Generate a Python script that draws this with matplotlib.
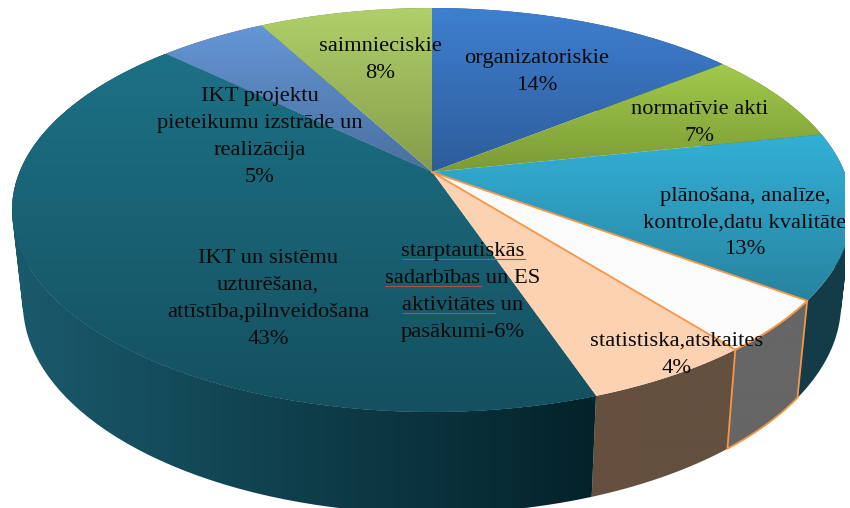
import numpy as np
import matplotlib
matplotlib.use('Agg')
import matplotlib.pyplot as plt
from matplotlib.path import Path
from matplotlib.patches import PathPatch
from matplotlib.colors import LinearSegmentedColormap

# Data (clockwise from the top), shares
names = ['organizatoriskie', 'normatīvie akti', 'plānošana', 'statistiska', 'starptautiskās',
         'IKT uzturēšana', 'IKT projekti', 'saimnieciskie']
shares = [14.4, 7.4, 13.2, 4.2, 5.5, 42.3, 5.0, 8.0]
top_from = ['#3e7fd0', '#a2c94c', '#33b0d6', '#fcfcfc', '#fcd2b2', '#1d7186', '#6596d6', '#b0d06a']
top_to = ['#2e5c9a', '#7b9b35', '#27839f', '#fcfcfc', '#fcd2b2', '#14505f', '#4a6f9e', '#859c4a']
wall_from = ['#24486f', '#5c7328', '#143c48', '#666666', '#66503f', '#1a5a6c', '#3a5578', '#66793a']
wall_to = ['#24486f', '#5c7328', '#143c48', '#666666', '#63503f', '#04222a', '#3a5578', '#66793a']
edges = [None, None, None, '#f79646', None, None, None, None]

label_text = ['organizatoriskie\n14%', 'normatīvie akti\n7%',
              'plānošana, analīze,\nkontrole,datu kvalitāte\n13%', 'statistiska,atskaites\n4%',
              'starptautiskās\nsadarbības un ES\naktivitātes un\npasākumi-6%',
              'IKT un sistēmu\nuzturēšana,\nattīstība,pilnveidošana\n43%',
              'IKT projektu\npieteikumu izstrāde un\nrealizācija\n5%', 'saimnieciskie\n8%']
label_x = [537, 700, 745, 677, 463, 268, 260, 380]
label_y = [72, 123, 223, 355, 292, 299, 137, 60]

# Pie geometry in pixels
cx, cy = 432, 172
A, B, k = 412.5, 194.8, 0.188
fw, fh = 850, 508


def rim(a0, a1, n=80):
    t = np.radians(np.linspace(a0, a1, n))
    u, v = np.sin(t), np.cos(t)
    w = 1 + k * v
    return cx + A * u / w, cy - B * v / w


def lower(x, y):
    # rim of the bottom face, a little narrower and further down
    return cx + 0.974 * (x - cx), 264 + 1.04 * (y - cy)


def fill(ax, path, xs, ys, c0, c1, horizontal=False, z=2):
    patch = PathPatch(path, fc='none', ec='none')
    ax.add_patch(patch)
    cmap = LinearSegmentedColormap.from_list('g', [c0, c1])
    grad = np.linspace(0, 1, 256)
    grad = grad.reshape(1, -1) if horizontal else grad.reshape(-1, 1)
    im = ax.imshow(grad, cmap=cmap, aspect='auto', interpolation='bilinear', vmin=0, vmax=1,
                   extent=[min(xs), max(xs), max(ys), min(ys)], zorder=z)
    im.set_clip_path(patch)


def wall_path(x, y, xb, yb):
    # one quad per rim step, all wound the same way so they add up
    verts, codes = [], []
    for j in range(len(x) - 1):
        q = [(x[j], y[j]), (x[j + 1], y[j + 1]), (xb[j + 1], yb[j + 1]), (xb[j], yb[j])]
        area = sum(q[m][0] * q[(m + 1) % 4][1] - q[(m + 1) % 4][0] * q[m][1] for m in range(4))
        if area < 0:
            q = q[::-1]
        verts += q + [q[0]]
        codes += [Path.MOVETO, Path.LINETO, Path.LINETO, Path.LINETO, Path.CLOSEPOLY]
    return Path(verts, codes)


fig = plt.figure(figsize=(fw / 100, fh / 100), dpi=100)
ax = fig.add_axes([0, 0, 845 / fw, 1])
ax.axis('off')

bounds = np.concatenate([[0], np.cumsum(shares)]) * 3.6

# Side walls first, the top faces cover whatever is at the back
for i in range(len(shares)):
    x, y = rim(bounds[i], bounds[i + 1])
    xb, yb = lower(x, y)
    xs = np.concatenate([x, xb[::-1]])
    ys = np.concatenate([y, yb[::-1]])
    fill(ax, wall_path(x, y, xb, yb), xs, ys, wall_from[i], wall_to[i], horizontal=True)
    if edges[i]:
        ax.plot(np.append(xs, xs[0]), np.append(ys, ys[0]), color=edges[i], lw=1.3, zorder=3)

# teal under the big slice so no light seam shows against its wall
x, y = rim(bounds[5], bounds[6])
ax.fill(np.append(x, cx), np.append(y, cy), color='#17596b', lw=0, zorder=2.5)

for i in range(len(shares)):
    x, y = rim(bounds[i], bounds[i + 1])
    xs = np.concatenate([[cx], x])
    ys = np.concatenate([[cy], y])
    fill(ax, Path(np.column_stack([xs, ys])), xs, ys, top_from[i], top_to[i], z=3)
    if edges[i]:
        ax.plot(np.append(xs, cx), np.append(ys, cy), color=edges[i], lw=1.3, zorder=4)

for i in range(len(names)):
    ax.text(label_x[i], label_y[i], label_text[i], ha='center', va='center', fontsize=16.2,
            family='Liberation Serif', color='#0a0a0a', linespacing=1.57, zorder=6, clip_on=True)

# spell-check underlines in the source document
for x0, x1, yy in [(402, 525, 259), (385, 481, 286), (403, 495, 313)]:
    ax.plot([x0, x1], [yy, yy], color='#b04a55', lw=0.8, zorder=5)

ax.set_xlim(0, 845)
ax.set_ylim(fh, 0)
fig.savefig('out.png', dpi=100, facecolor='white')
